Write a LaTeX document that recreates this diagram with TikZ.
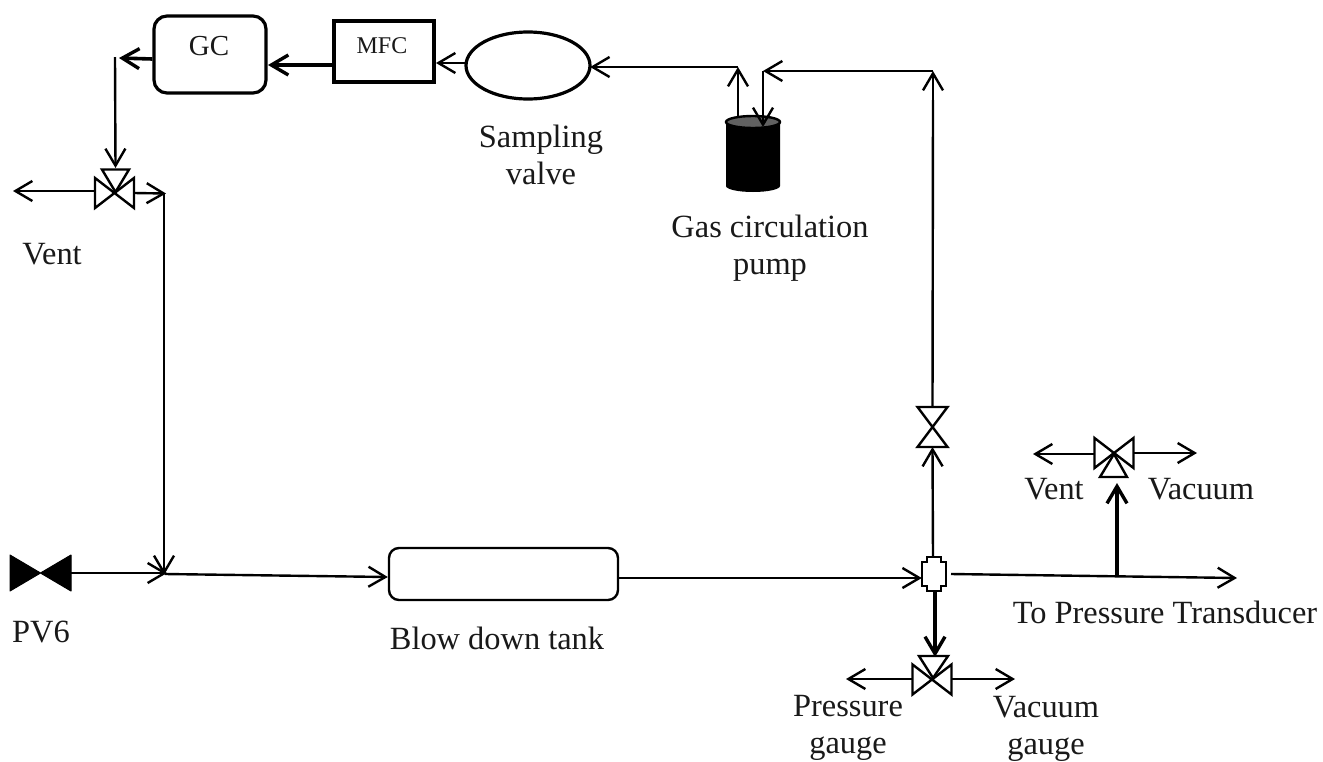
\documentclass[tikz,border=0pt]{standalone}
\usepackage{fontspec}
\setmainfont{Liberation Serif}
\usetikzlibrary{arrows.meta}
\tikzset{
  line/.style={line width=2.4pt,line join=miter},
  flow/.style={line width=2.4pt,-{Straight Barb[length=17pt,width=20pt,line width=2.4pt]}},
  flowthick/.style={line width=3.6pt,-{Straight Barb[length=17pt,width=20pt,line width=3.4pt]}},
  txt/.style={font=\fontsize{32.4}{37}\selectfont,align=center,inner sep=0pt,text=black!90},
  box/.style={draw,line width=3.2pt,inner sep=0pt},
  valvebox/.style={inner sep=0pt,outer sep=0pt},
  valveline/.style={draw,line width=2.4pt,line join=miter}
}
\newcommand{\hbow}[1]{\draw[valveline] (#1.north west)--(#1.south east)--(#1.north east)--(#1.south west)--cycle;}
\newcommand{\vbow}[1]{\draw[valveline] (#1.north west)--(#1.south east)--(#1.south west)--(#1.north east)--cycle;}
\begin{document}
\begin{tikzpicture}[x=1pt,y=-1pt]
\useasboundingbox[fill=white] (0,0) rectangle (1323,761);
% equipment
\node[box,rounded corners=13pt,minimum width=112pt,minimum height=77pt] (gc) at (210,54.5) {};
\node[txt,font=\fontsize{29}{34}\selectfont] (gctext) at (209,46) {GC};
\node[box,minimum width=100pt,minimum height=61pt] (mfc) at (384,51.5) {};
\node[txt,font=\fontsize{24}{28}\selectfont] (mfctext) at (382,46) {MFC};
\draw[line width=3.2pt] (528,65.5) ellipse [x radius=62,y radius=33.5];
\node[inner sep=0pt,minimum width=124pt,minimum height=67pt] (sv) at (528,65.5) {};
\node[draw,line width=2.4pt,rounded corners=10pt,minimum width=229pt,minimum height=52pt,inner sep=0pt] (tank) at (503.5,574) {};
% pump
\fill[black] (726,122) -- (726,186) arc[start angle=180,end angle=0,x radius=27,y radius=6] -- (780,122) -- cycle;
\draw[line width=2.4pt,fill=black!62] (753,122) ellipse [x radius=27,y radius=6];
\coordinate (pumpout) at (738,117);
\coordinate (pumpin) at (763,127);
% valves
\node[valvebox,minimum width=39pt,minimum height=30pt] (v1) at (114.5,193) {};
\hbow{v1}
\draw[valveline] (102,169.5)--(129,169.5)--(115.5,192)--cycle;
\node[valvebox,minimum width=39pt,minimum height=30pt] (v2) at (1114,453) {};
\hbow{v2}
\draw[valveline] (1100,477)--(1127,477)--(1114,454)--cycle;
\node[valvebox,minimum width=39pt,minimum height=30pt] (v3) at (932,679.5) {};
\hbow{v3}
\draw[valveline] (919,656)--(948,656)--(933,678)--cycle;
\node[valvebox,minimum width=30pt,minimum height=40pt] (v4) at (932.5,427) {};
\vbow{v4}
\node[valvebox,minimum width=61pt,minimum height=36pt] (pv) at (40.5,573) {};
\fill[black,draw=black,line width=1pt,line join=round] (pv.north west)--(pv.south east)--(pv.north east)--(pv.south west)--cycle;
% fitting
\node[inner sep=0pt,minimum width=24pt,minimum height=34pt] (fit) at (934,574) {};
\draw[line width=2.4pt] (927,557)--(941,557)--(941,562)--(946,562)--(946,586)--(941,586)--(941,591)--(927,591)--(927,586)--(922,586)--(922,562)--(927,562)--cycle;
% junctions and free ends
\coordinate (gcl) at (119,58);
\coordinate (gclt) at (115,57);
\coordinate (ventL) at (13,191);
\coordinate (j1) at (164,193.5);
\coordinate (j2) at (164,575);
\coordinate (j3) at (738,67);
\coordinate (j4) at (763,71);
\coordinate (j5) at (933,71);
\coordinate (p1) at (1117,576);
\coordinate (pt) at (1237,578);
\coordinate (ventR) at (1033,454);
\coordinate (vac) at (1197,453);
\coordinate (pg) at (846,679);
\coordinate (vg) at (1015,679);
% connectors
\draw[flow] (sv.west |- 0,63) -- (436,63);
\draw[flowthick] (mfc.west |- 0,65) -- (268,65);
\draw[flowthick] (gc.west |- 0,59) -- (gcl);
\draw[flow] (gclt) -- (115.5,168);
\draw[flow] (v1.west |- 0,191) -- (ventL);
\draw[flow] (v1.east) -- (166,193.5);
\draw[line] (j1) -- (164,560);
\draw[flow] (164,550) -- (j2);
\draw[flow] (pv.east) -- (167,573);
\draw[flow] (165,574) -- (tank.west |- 0,577);
\draw[line] (tank.east |- 0,578) -- (700,578);
\draw[flow] (700,578) -- (fit.west |- 0,578);
\draw[flow] (933,557) -- (v4.south);
\draw[line] (v4.north) -- (933,100);
\draw[flow] (933,100) -- (j5);
\draw[flow] (933,71) -- (j4);
\draw[flow] (763,71) -- (pumpin);
\draw[flow] (pumpout) -- (j3);
\draw[flow] (j3) -- (sv.east |- 0,67);
\draw[flow] (951,574) -- (pt);
\draw[flowthick] (p1) -- (1117,483);
\draw[flow] (v2.west |- 0,454) -- (ventR);
\draw[flow] (v2.east) -- (vac);
\draw[flowthick] (935,591) -- (935,657);
\draw[flow] (v3.west |- 0,679) -- (pg);
\draw[flow] (v3.east |- 0,679) -- (vg);
% labels
\node[txt] (tvent) at (52,254) {Vent};
\node[txt] (tsv) at (541,155) {Sampling\\valve};
\node[txt] (tgas) at (770,248) {Gas circulation\\pump};
\node[txt] (tpv) at (41,632) {PV6};
\node[txt] (ttank) at (497,638) {Blow down tank};
\node[txt] (tvent2) at (1054,489) {Vent};
\node[txt] (tvac) at (1201,489) {Vacuum};
\node[txt] (tpt) at (1165,612) {To Pressure Transducer};
\node[txt] (tpg) at (848,728) {Pressure\\gauge};
\node[txt] (tvg) at (1046,729) {Vacuum\\gauge};
\end{tikzpicture}
\end{document}
